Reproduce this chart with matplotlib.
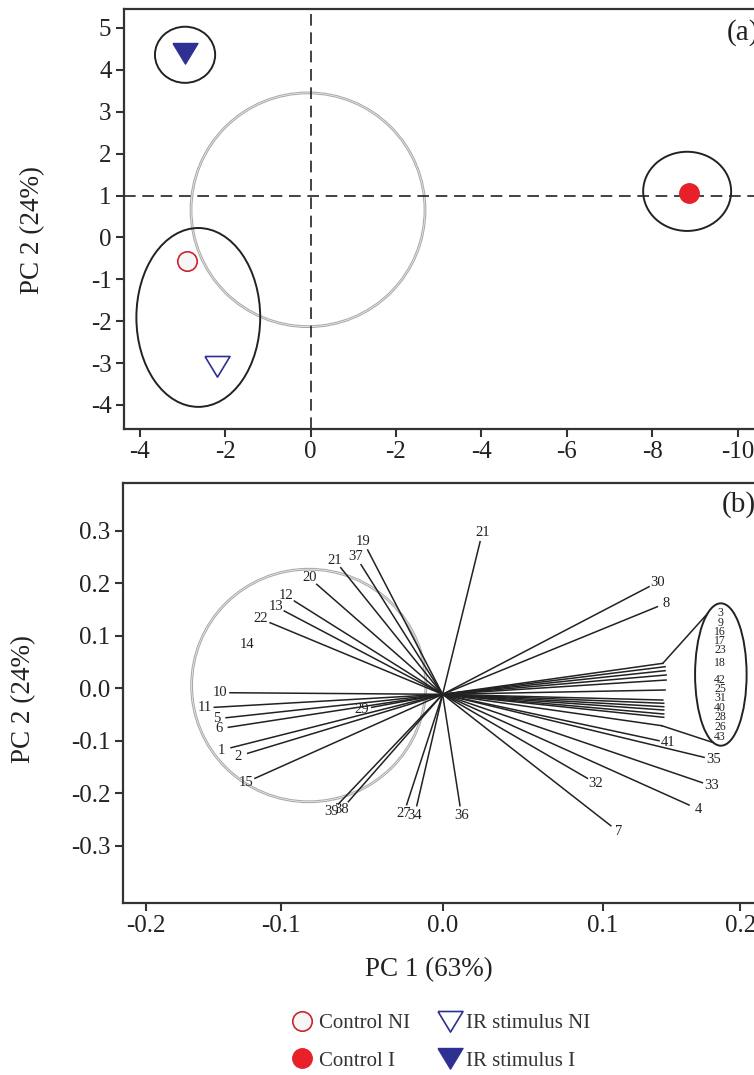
import numpy as np
import matplotlib
matplotlib.use("Agg")
from matplotlib import pyplot as plt
from matplotlib.patches import Ellipse
from matplotlib.lines import Line2D

plt.rcParams['font.family'] = ['Liberation Serif', 'DejaVu Serif']
plt.rcParams['axes.unicode_minus'] = False

# ---- panel (a): PCA scores ----
groups = ['Control NI', 'Control I', 'IR stimulus NI', 'IR stimulus I']
pc1_scores = [-2.89, 8.86, -2.19, -2.93]
pc2_scores = [-0.56, 1.06, -3.08, 4.40]

# group ellipses (centre x, centre y, width, height)
ell_x = [-2.94, -2.63, 8.82]
ell_y = [4.36, -1.91, 1.10]
ell_w = [1.41, 2.90, 2.06]
ell_h = [1.34, 4.27, 1.89]

# correlation ring
ring_a = (-0.06, 0.66, 5.48, 5.58)

xticks_a = [-4, -2, 0, 2, 4, 6, 8, 10]
xticklabels_a = ['-4', '-2', '0', '-2', '-4', '-6', '-8', '-10']
yticks_a = [-4, -3, -2, -1, 0, 1, 2, 3, 4, 5]

# ---- panel (b): loadings ----
var_names = ['10', '11', '5', '6', '1', '2', '15', '29', '22', '13', '12', '20', '21',
             '37', '19', '39', '38', '27', '34', '36', '21', '30', '8', '41', '35',
             '33', '4', '32', '7']
load_x = [-0.1407, -0.1511, -0.1433, -0.1418, -0.1400, -0.1290, -0.1242, -0.0469,
          -0.1142, -0.1048, -0.0981, -0.0833, -0.0674, -0.0540, -0.0496, -0.0690,
          -0.0624, -0.0238, -0.0171, 0.0115, 0.0248, 0.1366, 0.1421, 0.1432,
          0.1730, 0.1719, 0.1631, 0.0958, 0.1113]
load_y = [-0.0090, -0.0368, -0.0566, -0.0749, -0.1137, -0.1244, -0.1720, -0.0368,
          0.1244, 0.1467, 0.1657, 0.1975, 0.2291, 0.2349, 0.2629, -0.2210,
          -0.2166, -0.2223, -0.2242, -0.2242, 0.2787, 0.1930, 0.1549, -0.1004,
          -0.1320, -0.1804, -0.2229, -0.1720, -0.2623]

# variable 14 is only labelled, no vector drawn
lone_name = '14'
lone_xy = (-0.1297, 0.0838)

# bundle of near-horizontal vectors grouped in the ellipse on the right
bundle_names = ['3', '9', '16', '17', '23', '18', '42', '25', '31', '40', '28', '26', '43']
bundle_x = [0.1457, 0.1472, 0.1472, 0.1479, 0.1479, 0.1472, 0.1457, 0.1463, 0.1463,
            0.1463, 0.1463, 0.1463, 0.1450]
bundle_y = [0.0470, 0.0406, 0.0330, 0.0248, 0.0152, -0.0038, -0.0229, -0.0291,
            -0.0356, -0.0419, -0.0495, -0.0558, -0.0718]
bundle_label_y = [0.1434, 0.1244, 0.1072, 0.0895, 0.0724, 0.0482, 0.0152, -0.0025,
                  -0.0196, -0.0387, -0.0547, -0.0737, -0.0928]
bundle_ell = (0.1841, 0.0257, 0.0341, 0.2712)

origin_b = (0.0, -0.012)
ring_b = (-0.0886, 0.0048, 0.155, 0.443)

# tick spacing in the original figure is uneven
xticks_b = [-0.1963, -0.1070, 0.0, 0.1061, 0.1969]
xticklabels_b = ['-0.2', '-0.1', '0.0', '0.1', '0.2']
yticks_b = [-0.3, -0.2, -0.1, 0.0, 0.1, 0.2, 0.3]

# ---------------------------------------------------------------
dark = '#222222'
red = '#e8202a'
blue = '#2e3192'
tri = [(-1, 0.8), (1, 0.8), (0, -0.85), (-1, 0.8)]
styles = {
    'Control NI': dict(marker='o', ms=14, mfc='#f6f6f6', mec='#c8262e', mew=1.2),
    'Control I': dict(marker='o', ms=14, mfc=red, mec=red, mew=1.0),
    'IR stimulus NI': dict(marker=tri, ms=18, mfc='white', mec=blue, mew=1.2),
    'IR stimulus I': dict(marker=tri, ms=18, mfc=blue, mec=blue, mew=1.0),
}


def ring(ax, x, y, w, h):
    ax.add_patch(Ellipse((x, y), w, h, fill=False, ec='#a9a9a9', lw=2.0, zorder=1))
    ax.add_patch(Ellipse((x, y), w, h, fill=False, ec='#f2f2f2', lw=0.5, zorder=1))


def style_axes(ax):
    for s in ax.spines.values():
        s.set_linewidth(1.6)
        s.set_color('#333333')
    ax.tick_params(direction='out', length=6, width=1.5, color='#333333',
                   labelsize=18, labelcolor=dark, pad=3)


fig = plt.figure(figsize=(7.54, 10.75), dpi=100)

ax1 = fig.add_axes([124 / 754, 646 / 1075, 640 / 754, 420 / 1075])
ax1.set_xlim(-4.37, 10.62)
ax1.set_ylim(-4.573, 5.453)
ax1.axhline(1, color=dark, lw=1.2, ls=(0, (7, 4)), zorder=2)
ax1.axvline(0, color=dark, lw=1.2, ls=(0, (7, 4)), zorder=2)
ring(ax1, *ring_a)
for cx, cy, w, h in zip(ell_x, ell_y, ell_w, ell_h):
    ax1.add_patch(Ellipse((cx, cy), w, h, fill=False, ec=dark, lw=1.4, zorder=3))
for g, x, y in zip(groups, pc1_scores, pc2_scores):
    ax1.plot([x], [y], ls='none', zorder=4, **styles[g])
ax1.set_xticks(xticks_a)
ax1.set_xticklabels(xticklabels_a)
ax1.set_yticks(yticks_a)
ax1.set_ylabel('PC 2 (24%)', fontsize=19.5, color=dark)
ax1.yaxis.set_label_coords(-0.124, 0.474)
ax1.text(10.12, 4.9, '(a)', fontsize=21, ha='center', va='center', color=dark)
style_axes(ax1)

ax2 = fig.add_axes([123 / 754, 172 / 1075, 640 / 754, 420 / 1075])
ax2.set_xlim(-0.2115, 0.212)
ax2.set_ylim(-0.4095, 0.3905)
ring(ax2, *ring_b)

ox, oy = origin_b
p0 = ax2.transData.transform(origin_b)
for name, x, y in zip(var_names, load_x, load_y):
    ax2.plot([ox, x], [oy, y], color=dark, lw=1.1, zorder=2)
    d = ax2.transData.transform((x, y)) - p0
    u = d / np.hypot(*d)
    ax2.annotate(name, (x, y), xytext=(u[0] * 7, u[1] * 7), textcoords='offset points',
                 ha='center', va='center', fontsize=10.5, color=dark)
ax2.text(lone_xy[0], lone_xy[1], lone_name, ha='center', va='center', fontsize=10.5, color=dark)

for x, y in zip(bundle_x, bundle_y):
    ax2.plot([ox, x], [oy, y], color=dark, lw=1.1, zorder=2)
bx, by, bw, bh = bundle_ell
ax2.add_patch(Ellipse((bx, by), bw, bh, fill=False, ec=dark, lw=1.4, zorder=3))
for ang, i in [(121, 0), (253, -1)]:
    ex = bx + bw / 2 * np.cos(np.radians(ang))
    ey = by + bh / 2 * np.sin(np.radians(ang))
    ax2.plot([bundle_x[i], ex], [bundle_y[i], ey], color=dark, lw=1.1, zorder=2)
for name, y in zip(bundle_names, bundle_label_y):
    ax2.text(bx - 0.0005, y, name, ha='center', va='center', fontsize=8.5, color=dark)

ax2.set_xticks(xticks_b)
ax2.set_xticklabels(xticklabels_b)
ax2.set_yticks(yticks_b)
ax2.yaxis.set_major_formatter(matplotlib.ticker.FormatStrFormatter('%.1f'))
ax2.set_xlabel('PC 1 (63%)', fontsize=19.5, color=dark)
ax2.xaxis.set_label_coords(0.478, -0.13)
ax2.set_ylabel('PC 2 (24%)', fontsize=19.5, color=dark)
ax2.yaxis.set_label_coords(-0.135, 0.486)
ax2.text(0.1957, 0.3486, '(b)', fontsize=21, ha='center', va='center', color=dark)
style_axes(ax2)

handles = [Line2D([], [], ls='none', **styles[g]) for g in groups]
fig.legend(handles, groups, loc='center', bbox_to_anchor=(0.585, 0.0305), ncol=2,
           frameon=False, fontsize=15, handlelength=1.0, handletextpad=0.3,
           columnspacing=1.4, labelspacing=0.85, labelcolor='#333333')

fig.savefig('out.png', dpi=100)
